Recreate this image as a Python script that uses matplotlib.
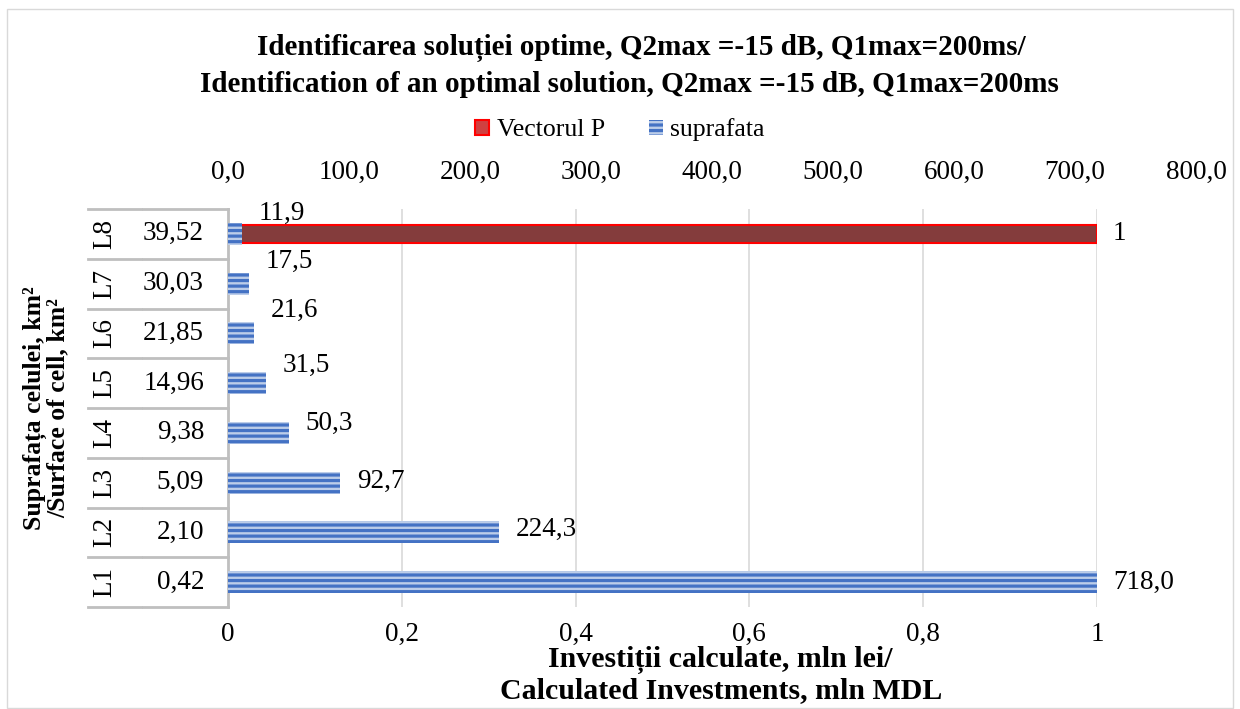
import numpy as np
import matplotlib.pyplot as plt
from matplotlib.patches import Rectangle
from matplotlib.lines import Line2D
from matplotlib.transforms import blended_transform_factory

plt.rcParams['font.family'] = ['Liberation Serif', 'DejaVu Serif']
plt.rcParams['hatch.linewidth'] = 2.3

# ------------------------------------------------------------
# Date
# ------------------------------------------------------------
categorii = ['L1', 'L2', 'L3', 'L4', 'L5', 'L6', 'L7', 'L8']
suprafata_celula = ['0,42', '2,10', '5,09', '9,38', '14,96', '21,85', '30,03', '39,52']
suprafata = [718.0, 224.3, 92.7, 50.3, 31.5, 21.6, 17.5, 11.9]
vectorul_p = [np.nan, np.nan, np.nan, np.nan, np.nan, np.nan, np.nan, 1]
ticks_sus = [0, 100, 200, 300, 400, 500, 600, 700, 800]
ticks_jos = [0, 0.2, 0.4, 0.6, 0.8, 1]

# etichetele au fost mutate manual in original (deplasare verticala, puncte)
dy_etichete = [0, 2, 1, 7, 13, 16.5, 16, 15]

W, H = 1240, 709
FS = 19.5
C_RED_FILL = '#843c3c'
C_RED_EDGE = '#ff0000'
C_BLUE_LIGHT = '#bccde9'
C_BLUE = '#4472c4'
C_GRID = '#d9d9d9'
C_TABLE = '#bfbfbf'


def px(x0, y0, x1, y1):
    # pixeli (stanga-sus) -> coordonate figura [left, bottom, w, h]
    return [x0 / W, 1 - y1 / H, (x1 - x0) / W, (y1 - y0) / H]


fig = plt.figure(figsize=(W / 100, H / 100), dpi=100)
fig.add_artist(Rectangle((7 / W, 1 - 708 / H), (1233 - 7) / W, (708 - 9) / H,
                         transform=fig.transFigure, fill=False, ec=C_GRID, lw=1))

y = np.arange(len(categorii))

# ------------------------------------------------------------
# Axa principala (jos): Vectorul P
# ------------------------------------------------------------
ax = fig.add_axes(px(228, 209, 1097, 607))
ax.set_xlim(0, 1)
ax.set_ylim(-0.5, len(categorii) - 0.5)
ax.barh(y, vectorul_p, height=0.36, color=C_RED_FILL, edgecolor=C_RED_EDGE, linewidth=1.5)
ax.set_xticks(ticks_jos)
ax.set_xticklabels([f'{t:g}'.replace('.', ',') for t in ticks_jos])
ax.xaxis.grid(True, color=C_GRID, lw=1.2)
ax.set_axisbelow(True)
ax.set_yticks([])
ax.tick_params(axis='x', length=0, pad=11, labelsize=FS)
for s in ['top', 'right', 'bottom']:
    ax.spines[s].set_visible(False)
ax.spines['left'].set_color(C_TABLE)
ax.spines['left'].set_linewidth(2)

for i, v in enumerate(vectorul_p):
    if not np.isnan(v):
        ax.annotate(f'{v:g}', (v, i), xytext=(11, 0), textcoords='offset points',
                    ha='left', va='center', fontsize=FS)

# tabelul din stanga (categorii pe doua niveluri)
tr = blended_transform_factory(ax.transAxes, ax.transData)
x_a, x_gap0, x_gap1 = (88 - 228) / 869, (141 - 228) / 869, (143 - 228) / 869
for k in range(len(categorii) + 1):
    yy = k - 0.5
    for xs in ([x_a, x_gap0], [x_gap1, 0]):
        ax.add_line(Line2D(xs, [yy, yy], transform=tr, color=C_TABLE, lw=2, clip_on=False))
for i, (c, s) in enumerate(zip(categorii, suprafata_celula)):
    ax.text((105 - 228) / 869, i, c, transform=tr, rotation=90, ha='center', va='center', fontsize=FS)
    ax.text((204 - 228) / 869, i, s, transform=tr, ha='right', va='center', fontsize=FS)

# ------------------------------------------------------------
# Axa secundara (sus): suprafata
# ------------------------------------------------------------
ax2 = fig.add_axes(px(228, 209, 1196, 607))
ax2.patch.set_visible(False)
ax2.set_xlim(0, 800)
ax2.set_ylim(-0.5, len(categorii) - 0.5)
ax2.barh(y, suprafata, height=0.44, color=C_BLUE_LIGHT, edgecolor=C_BLUE, linewidth=0, hatch='---')
ax2.xaxis.tick_top()
ax2.set_xticks(ticks_sus)
ax2.set_xticklabels([f'{t:.1f}'.replace('.', ',') for t in ticks_sus])
ax2.set_yticks([])
ax2.tick_params(axis='x', length=0, pad=17, labelsize=FS)
for s in ax2.spines.values():
    s.set_visible(False)

for i, v in enumerate(suprafata):
    ax2.annotate(f'{v:.1f}'.replace('.', ','), (v, i), xytext=(12, dy_etichete[i]),
                 textcoords='offset points', ha='left', va='center', fontsize=FS)

# ------------------------------------------------------------
# Titlu, legenda, etichete axe
# ------------------------------------------------------------
fig.text(641 / W, 1 - 48 / H, 'Identificarea soluției optime, Q2max =-15 dB, Q1max=200ms/',
         ha='center', va='center', fontsize=21, fontweight='bold')
fig.text(629 / W, 1 - 85 / H, 'Identification of an optimal solution, Q2max =-15 dB, Q1max=200ms',
         ha='center', va='center', fontsize=21, fontweight='bold')

h_p = Rectangle((0, 0), 1, 1, fc='#d04040', ec=C_RED_EDGE, lw=1.5)
h_s = Rectangle((0, 0), 1, 1, fc=C_BLUE_LIGHT, ec=C_BLUE, lw=0, hatch='---')
fig.legend([h_p, h_s], ['Vectorul P', 'suprafata'], loc='center',
           bbox_to_anchor=(620 / W, 1 - 130 / H), ncol=2, frameon=False, fontsize=18.5,
           handlelength=0.55, handleheight=0.55, handletextpad=0.3, columnspacing=1.7)

fig.text(720 / W, 1 - 660 / H, 'Investiții calculate, mln lei/',
         ha='center', va='center', fontsize=21.5, fontweight='bold')
fig.text(721 / W, 1 - 691 / H, 'Calculated Investments, mln MDL',
         ha='center', va='center', fontsize=21.5, fontweight='bold')

fig.text(35 / W, 1 - 408 / H, 'Suprafața celulei, km²', rotation=90,
         ha='center', va='center', fontsize=18.5, fontweight='bold')
fig.text(58 / W, 1 - 408 / H, '/Surface of cell, km²', rotation=90,
         ha='center', va='center', fontsize=18.5, fontweight='bold')

fig.savefig('out.png', dpi=100)
